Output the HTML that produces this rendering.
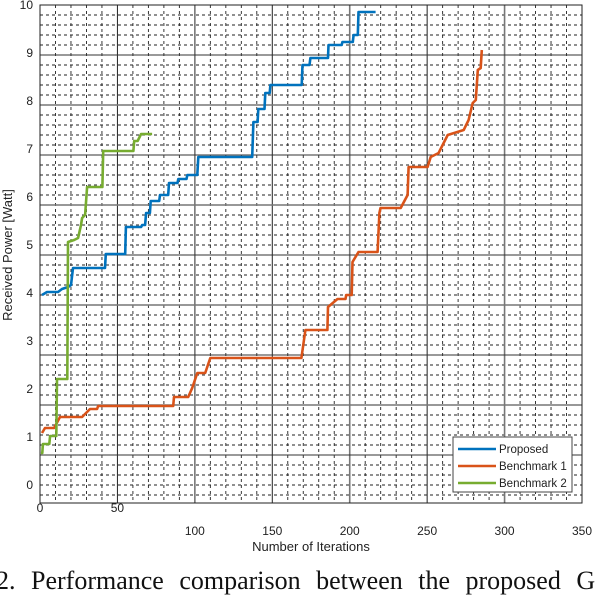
<!DOCTYPE html>
<html><head><meta charset="utf-8">
<style>
body{margin:0;background:#fff;width:616px;height:582px;overflow:hidden;position:relative;font-family:"Liberation Sans",sans-serif;}
svg{position:absolute;left:0;top:0;}
#caption{position:absolute;left:-4px;top:566px;font-family:"Liberation Serif",serif;font-size:26px;word-spacing:9px;white-space:nowrap;color:#111;}
</style></head><body>
<svg id="chart" width="616" height="582" xmlns="http://www.w3.org/2000/svg"></svg>
<div id="caption">2.  Performance comparison between the proposed G</div>
<script>
const xTicks=[0,50,100,150,200,250,300,350];
const yTicks=[0,1,2,3,4,5,6,7,8,9,10];
const seriesNames=["Proposed","Benchmark 1","Benchmark 2"];
const seriesColors=["#0072bd","#d95319","#77ac30"];
const proposedData=[[1.3,4.2],[4.5,4.26],[11.6,4.26],[14.2,4.32],[18.1,4.36],[20,4.4],[21.3,4.74],[42,4.74],[42.5,5.02],[55,5.02],[55.5,5.56],[65.3,5.56],[66,5.6],[67.9,5.6],[68.5,5.84],[71,5.84],[71.5,6.08],[77,6.08],[77.5,6.2],[82.8,6.2],[83.3,6.44],[88.8,6.44],[89.3,6.52],[94.6,6.52],[95.1,6.6],[101.6,6.6],[102.2,6.96],[137,6.96],[137.8,7.66],[140.5,7.66],[141,7.92],[145,7.92],[145.5,8.24],[148.3,8.24],[148.8,8.4],[169,8.4],[169.5,8.8],[174,8.8],[174.6,8.94],[186,8.94],[186.3,9.2],[194.8,9.2],[195.3,9.26],[202,9.26],[202.5,9.4],[205.2,9.4],[205.7,9.86],[216.7,9.86]];
const benchmark1Data=[[1.3,1.44],[3.2,1.54],[9.1,1.54],[12.9,1.76],[27.2,1.76],[32.3,1.92],[36.9,1.92],[37.5,1.98],[86,1.98],[86.5,2.16],[95.7,2.16],[98.3,2.34],[101.6,2.64],[106.7,2.64],[110,2.94],[168.8,2.94],[171.4,3.5],[185.6,3.5],[186,3.96],[192.1,4.12],[197.3,4.12],[197.7,4.2],[201.3,4.2],[201.8,4.86],[205.7,5.06],[218,5.06],[219.2,5.84],[219.9,5.94],[232.9,5.94],[237.4,6.2],[238,6.76],[250.3,6.76],[252.3,6.96],[257.4,7.04],[263.3,7.4],[273.6,7.5],[276.8,7.7],[279.4,8.04],[281.4,8.1],[282.7,8.7],[284.6,8.74],[285.3,9.1]];
const benchmark2Data=[[0.6,1.04],[1.5,1.04],[1.9,1.22],[6,1.22],[6.5,1.38],[10.5,1.38],[11,2.52],[17.6,2.52],[18.1,5.26],[22,5.3],[24.6,5.34],[26.5,5.6],[27.2,5.74],[29.1,5.8],[30.4,6.36],[40.3,6.36],[40.8,7.08],[60.3,7.08],[60.8,7.28],[63,7.28],[65.3,7.42],[72.4,7.42]];

const L=40,R=582,T=5,B=503;
const xs=v=>L+v*(R-L)/350;
const ys=v=>505-v*50;
const yLab=v=>485-v*48;
const NS="http://www.w3.org/2000/svg";
const svg=document.getElementById('chart');
function mk(tag,attrs,parent){const e=document.createElementNS(NS,tag);for(const k in attrs)e.setAttribute(k,attrs[k]);(parent||svg).appendChild(e);return e;}

const grid=mk('g',{});


for(let v=10;v<350;v+=10){ if(v%50===0)continue;
  const l=mk('line',{x1:xs(v),x2:xs(v),y1:T,y2:B,stroke:'#222','stroke-width':0.9,'stroke-dasharray':'3,3'},grid);
  
  }
for(let v=0.2;v<10;v+=0.2){ if(Math.abs(v-Math.round(v))<0.01)continue;
  const l=mk('line',{x1:L,x2:R,y1:ys(v),y2:ys(v),stroke:'#222','stroke-width':0.9,'stroke-dasharray':'3,3'},grid);
  
  }
xTicks.forEach(v=>{ if(v===0||v===350)return;
  const l=mk('line',{x1:xs(v),x2:xs(v),y1:T,y2:B,stroke:v%100===0?'#777':'#222','stroke-width':v%100===0?1.6:1},grid);
  
  });
yTicks.forEach(v=>{ if(v===0||v===10)return;
  const l=mk('line',{x1:L,x2:R,y1:ys(v),y2:ys(v),stroke:v%2===0?'#777':'#333','stroke-width':v%2===0?1.6:1},grid);
  
  });
const box=mk('rect',{x:L,y:T,width:R-L,height:B-T,fill:'none',stroke:'#222','stroke-width':1});



const allData=[proposedData,benchmark1Data,benchmark2Data];
allData.forEach((d,i)=>{
  const p=mk('polyline',{points:d.map(q=>xs(q[0]).toFixed(1)+','+ys(q[1]).toFixed(1)).join(' '),fill:'none',stroke:seriesColors[i],'stroke-width':2.6,'stroke-linejoin':'round'});
  
  
});

yTicks.forEach(v=>{
  const t=mk('text',{x:33,y:yLab(v)+4,'text-anchor':'end','font-size':12,fill:'#222'});
  t.textContent=v;
  
  });
xTicks.forEach(v=>{
  const low=v<100;
  const t=mk('text',{x:xs(v),y:low?512:535,'text-anchor':'middle','font-size':12,fill:'#222'});
  t.textContent=v;
  
  });
const xt=mk('text',{x:311,y:551,'text-anchor':'middle','font-size':13,fill:'#222'});
xt.textContent='Number of Iterations';


const yt=mk('text',{x:0,y:0,'text-anchor':'middle','font-size':13,fill:'#222',transform:'translate(12,255) rotate(-90)'});
yt.textContent='Received Power [Watt]';



const lg=mk('g',{});


mk('rect',{x:453,y:437,width:119,height:55,fill:'#fff',stroke:'#444','stroke-width':1},lg);
seriesNames.forEach((n,i)=>{
  const y=449+i*17;
  const e=mk('g',{},lg);
  
  
  mk('line',{x1:458,x2:496,y1:y,y2:y,stroke:seriesColors[i],'stroke-width':2.6},e);
  const t=mk('text',{x:499,y:y+4,'font-size':11.5,fill:'#222'},e);
  t.textContent=n;
});
</script>
</body></html>
